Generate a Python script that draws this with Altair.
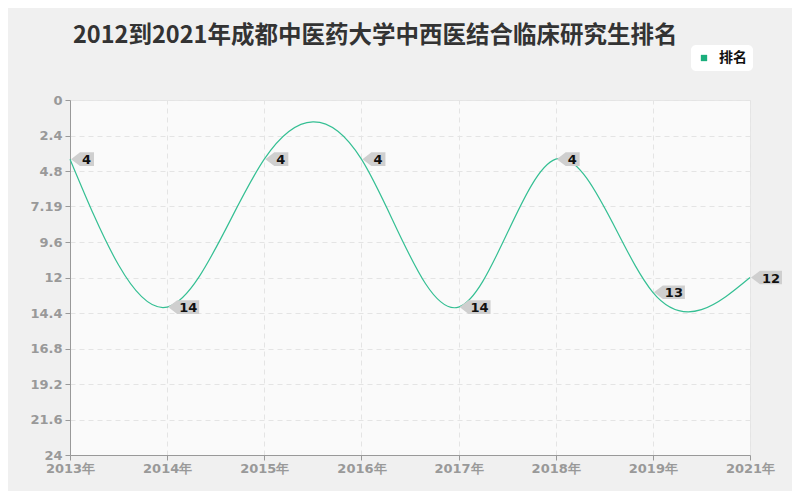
import altair as alt
import pandas as pd

years = ["2013年", "2014年", "2015年", "2016年", "2017年", "2018年", "2019年", "2021年"]
ranks = [4, 14, 4, 4, 14, 4, 13, 12]
series = ["排名"] * len(years)
y_ticks = [0, 2.4, 4.8, 7.19, 9.6, 12, 14.4, 16.8, 19.2, 21.6, 24]

df = pd.DataFrame({"year": years, "rank": ranks, "series": series})

LINE = "#34bf93"
FONT = "DejaVu Sans"

tag1 = "M0.125,0 L1.25,-0.85 L3,-0.85 L3,0.85 L1.25,0.85 Z"
tag2 = "M0.125,0 L1.25,-0.85 L4,-0.85 L4,0.85 L1.25,0.85 Z"

x_enc = alt.X(
    "year:N",
    sort=years,
    scale=alt.Scale(type="point", padding=0),
    axis=alt.Axis(
        title=None, labelAngle=0, labelColor="#999999", labelFontSize=13,
        labelFont=FONT, labelFontWeight="bold", labelPadding=2,
        tickColor="#999999", tickSize=5, domainColor="#999999",
        grid=True, gridColor="#e4e4e4", gridDash=[5, 4],
    ),
)
y_enc = alt.Y(
    "rank:Q",
    scale=alt.Scale(domain=[0, 24], reverse=True, nice=False, zero=False),
    axis=alt.Axis(
        title=None, values=y_ticks, format=".4~g", labelColor="#999999",
        labelFontSize=13, labelFont=FONT, labelFontWeight="bold", labelPadding=3,
        tickColor="#999999", tickSize=5, domainColor="#999999",
        grid=True, gridColor="#e4e4e4", gridDash=[5, 4],
    ),
)

line = alt.Chart(df).mark_line(
    interpolate="natural", strokeWidth=1.2
).encode(
    x=x_enc,
    y=y_enc,
    color=alt.Color(
        "series:N",
        scale=alt.Scale(range=[LINE]),
        legend=alt.Legend(
            title=None, orient="none", legendX=621, legendY=-55,
            fillColor="white", cornerRadius=5, padding=6,
            symbolType="square", symbolSize=40, labelFontSize=14,
            labelFont="Noto Sans CJK SC", labelFontWeight="bold", labelColor="#111111",
            symbolFillColor="#1aae7c", symbolStrokeColor="#1aae7c", symbolStrokeWidth=0,
            labelOffset=8,
        ),
    ),
)

tags = alt.Chart(df).mark_point(
    filled=True, opacity=1, color="#cfcfcf", strokeWidth=0, size=256
).encode(
    x=x_enc,
    y=y_enc,
    shape=alt.condition("datum.rank < 10", alt.value(tag1), alt.value(tag2)),
)

texts = alt.Chart(df).mark_text(
    align="left", dx=12, dy=1, fontSize=13, fontWeight="bold", font=FONT, color="#111111"
).encode(
    x=x_enc,
    y=y_enc,
    text="rank:Q",
)

chart = alt.layer(line, tags, texts).properties(
    width=680,
    height=355,
    background="#f0f0f0",
    padding={"left": 62, "top": 92, "right": 42, "bottom": 36},
    autosize=alt.AutoSizeParams(type="none"),
    title=alt.TitleParams(
        "2012到2021年成都中医药大学中西医结合临床研究生排名",
        anchor="start", frame="group", dx=3, dy=2, offset=0,
        font="Noto Sans CJK SC", fontSize=23.5, fontWeight="bold", color="#333333",
    ),
).configure_view(
    fill="#fafafa", stroke="#e6e6e6"
)

chart.save("out.html", embed_options={"renderer": "svg", "actions": False})
